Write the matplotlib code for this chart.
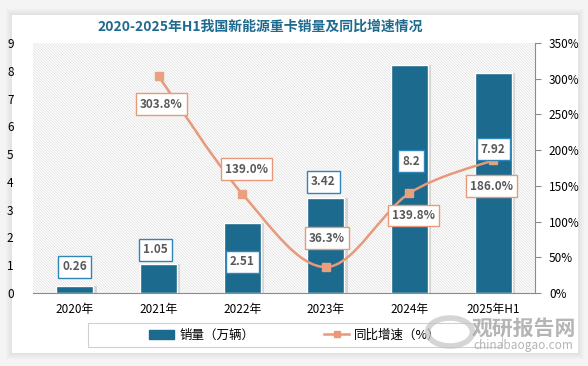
import matplotlib.pyplot as plt
import matplotlib.patches as mpatches
from matplotlib.path import Path
import numpy as np

plt.rcParams['font.family'] = ['Noto Sans CJK SC', 'DejaVu Sans']
plt.rcParams['hatch.linewidth'] = 0.5

# data
years = ['2020年', '2021年', '2022年', '2023年', '2024年', '2025年H1']
sales = [0.26, 1.05, 2.51, 3.42, 8.2, 7.92]
growth_idx = [1, 2, 3, 4, 5]
growth = [303.8, 139.0, 36.3, 139.8, 186.0]
sales_text = ['0.26', '1.05', '2.51', '3.42', '8.2', '7.92']
growth_text = ['303.8%', '139.0%', '36.3%', '139.8%', '186.0%']

barColor = '#1c6a8e'
lineColor = '#e8997a'
labelGray = '#595959'

fig = plt.figure(figsize=(5.88, 3.66), dpi=100)
fig.patch.set_facecolor('#f4f4f4')

# card with soft shadow
for i, a in enumerate([0.04, 0.05, 0.06]):
    d = (3 - i) * 2
    fig.patches.append(mpatches.Rectangle(((12 - d) / 588, (13 - d) / 366),
                                          (566 + 2 * d) / 588, (338 + 2 * d) / 366,
                                          transform=fig.transFigure, facecolor='#888888',
                                          edgecolor='none', alpha=a, zorder=-20))
fig.patches.append(mpatches.Rectangle((12 / 588, 13 / 366), 566 / 588, 338 / 366,
                                      transform=fig.transFigure, facecolor='white',
                                      edgecolor='none', zorder=-10))

ax = fig.add_axes([33 / 588, 1 - 293 / 366, 502 / 588, 250 / 366])
ax.patch.set_facecolor('white')
ax.patch.set_edgecolor('#dedede')
ax.patch.set_hatch('\\' * 12)
ax.patch.set_linewidth(0)

x = np.arange(len(years))
# bar shadows
ax.bar(x + 0.03, sales, width=0.46, color='#000000', alpha=0.12, zorder=1)
bars = ax.bar(x, sales, width=0.44, color=barColor, edgecolor='white', linewidth=1, zorder=2)

ax.set_xlim(-0.5, 5.5)
ax.set_ylim(0, 9)
ax.set_yticks(range(0, 10))
ax.set_xticks(x)
ax.set_xticklabels(years, fontsize=8.5)
ax.tick_params(axis='y', length=0, pad=14, labelsize=8.5)
ax.tick_params(axis='x', length=0, pad=7)
for s in ['top', 'left', 'right']:
    ax.spines[s].set_visible(False)
ax.spines['bottom'].set_color('#8c8c8c')

ax2 = ax.twinx()
ax2.set_ylim(0, 350)
ax2.set_yticks(range(0, 351, 50))
ax2.set_yticklabels([f'{v}%' for v in range(0, 351, 50)], fontsize=8.5)
ax2.tick_params(axis='y', length=4, color='#8c8c8c', pad=6)
for s in ['top', 'left', 'bottom']:
    ax2.spines[s].set_visible(False)
ax2.spines['right'].set_color('#8c8c8c')

# smooth line (catmull-rom as bezier), drawn in ax using the right-axis scale
pts = np.column_stack([growth_idx, growth]).astype(float)
verts = [tuple(pts[0])]
codes = [Path.MOVETO]
for i in range(len(pts) - 1):
    p0 = pts[i - 1] if i > 0 else pts[i]
    p1, p2 = pts[i], pts[i + 1]
    p3 = pts[i + 2] if i + 2 < len(pts) else pts[i + 1]
    c1 = p1 + (p2 - p0) / 6
    c2 = p2 - (p3 - p1) / 6
    verts += [tuple(c1), tuple(c2), tuple(p2)]
    codes += [Path.CURVE4] * 3
ax.add_patch(mpatches.PathPatch(Path(verts, codes), facecolor='none', edgecolor=lineColor,
                                linewidth=1.8, zorder=3, transform=ax2.transData))
ax.plot(growth_idx, growth, linestyle='none', marker='s', markersize=6,
        color='#e8a07f', zorder=4, transform=ax2.transData)

# bar value labels (left-axis data units)
bar_lab_pos = [(0, 0.94), (0.96, 1.55), (2, 1.12), (2.97, 4.0), (4.02, 4.75), (5, 5.18)]
for (lx, ly), t in zip(bar_lab_pos, sales_text):
    ax.text(lx, ly, t, ha='center', va='center', fontsize=8.5, fontweight='bold',
            color=labelGray, zorder=6,
            bbox=dict(boxstyle='square,pad=0.35', facecolor='white', edgecolor='#2e86b8',
                      linewidth=1))

growth_lab_pos = [(1.03, 6.8), (2.05, 4.46), (3.01, 1.98), (4.05, 2.8), (4.98, 3.85)]
for (lx, ly), t in zip(growth_lab_pos, growth_text):
    ax.text(lx, ly, t, ha='center', va='center', fontsize=8.5, fontweight='bold',
            color=labelGray, zorder=6,
            bbox=dict(boxstyle='square,pad=0.35', facecolor='white', edgecolor=lineColor,
                      linewidth=1))

fig.text(260 / 588, 1 - 27 / 366, '2020-2025年H1我国新能源重卡销量及同比增速情况',
         ha='center', va='center', fontsize=10, fontweight='bold', color='#1f6a8f')

# legend: frame drawn separately, entries placed inside
fig.patches.append(mpatches.Rectangle((88 / 588, 1 - 347 / 366), 414 / 588, 24 / 366,
                                      transform=fig.transFigure, facecolor='white',
                                      edgecolor='#d0d0d0', linewidth=0.8, zorder=1))
h1 = mpatches.Patch(color=barColor, label='销量（万辆）')
h2 = plt.Line2D([], [], color=lineColor, marker='s', markersize=5, linewidth=1.8,
                label='同比增速（%）')
leg = fig.legend(handles=[h1, h2], loc='center', bbox_to_anchor=(295 / 588, 1 - 335 / 366),
                 ncol=2, frameon=False, fontsize=9, columnspacing=5.6, handlelength=2.0,
                 handletextpad=0.4)
leg.set_zorder(2)

# watermark
fig.patches.append(mpatches.Circle((450 / 588, 1 - 332 / 366), 14 / 366,
                                   transform=fig.transFigure, facecolor='none',
                                   edgecolor='#c4c4c4', linewidth=4, alpha=0.7, zorder=10))
fig.text(524 / 588, 1 - 328 / 366, '观研报告网', ha='center', va='center', fontsize=15,
         fontweight='bold', color='#a8a8a8', alpha=0.85, zorder=11)
fig.text(523 / 588, 1 - 346 / 366, 'chinabaogao.com', ha='center', va='center', fontsize=8.5,
         color='#a8a8a8', alpha=0.85, zorder=11)

fig.savefig('out.png', dpi=100)
